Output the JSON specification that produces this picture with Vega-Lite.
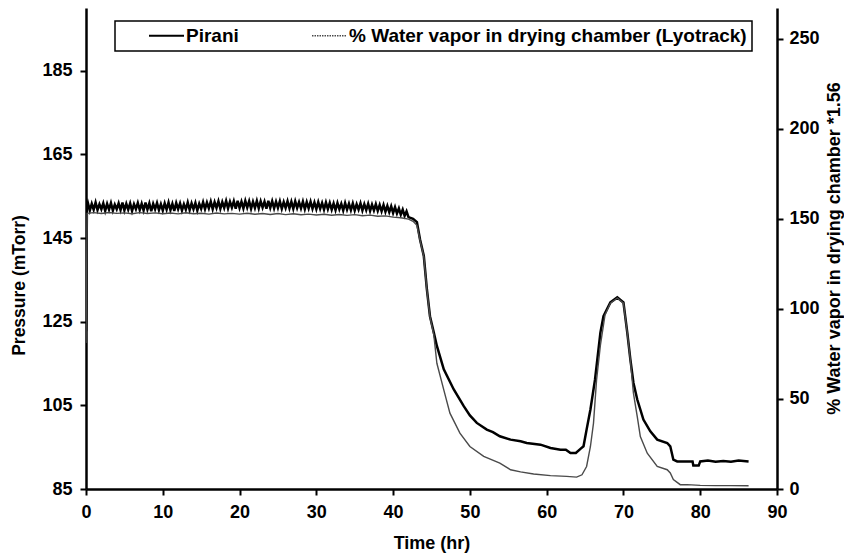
{
  "$schema": "https://vega.github.io/schema/vega-lite/v6.json",
  "width": 691,
  "height": 481,
  "autosize": {"type": "none"},
  "padding": {"left": 86, "top": 8, "right": 67, "bottom": 71},
  "background": "white",
  "config": {
    "view": {"stroke": null},
    "font": "Liberation Sans",
    "axis": {
      "grid": false,
      "domainColor": "black",
      "domainWidth": 2.5,
      "tickColor": "black",
      "tickWidth": 2,
      "tickSize": 6,
      "labelFont": "Liberation Sans",
      "labelFontWeight": "bold",
      "labelFontSize": 18,
      "labelColor": "black",
      "titleFont": "Liberation Sans",
      "titleFontWeight": "bold",
      "titleFontSize": 17.5,
      "titleColor": "black"
    },
    "legend": {
      "orient": "none",
      "legendX": 29,
      "legendY": 13,
      "direction": "horizontal",
      "strokeColor": "black",
      "strokeWidth": 1.5,
      "padding": 5,
      "symbolType": "stroke",
      "symbolSize": 1225,
      "symbolStrokeWidth": 2,
      "labelFont": "Liberation Sans",
      "labelFontWeight": "bold",
      "labelFontSize": 19,
      "labelColor": "black",
      "labelLimit": 0,
      "columnPadding": 44,
      "labelOffset": 10,
      "symbolOffset": 37
    }
  },
  "datasets": {
    "pirani": [
      {"hr": 0, "p": 122.7}, {"hr": 0.12, "p": 152.5},
      {"hr": 0.25, "p": 153.4}, {"hr": 0.5, "p": 151.6}, {"hr": 0.75, "p": 153.2}, {"hr": 1, "p": 151.8}, {"hr": 1.25, "p": 153.5}, {"hr": 1.5, "p": 151.7}, {"hr": 1.75, "p": 153.1}, {"hr": 2, "p": 151.9},
      {"hr": 2.25, "p": 153.3}, {"hr": 2.5, "p": 151.5}, {"hr": 2.75, "p": 153.2}, {"hr": 3, "p": 151.8}, {"hr": 3.25, "p": 153.4}, {"hr": 3.5, "p": 151.6}, {"hr": 3.75, "p": 153.0}, {"hr": 4, "p": 151.9},
      {"hr": 4.25, "p": 153.3}, {"hr": 4.5, "p": 151.7}, {"hr": 4.75, "p": 153.5}, {"hr": 5, "p": 151.6}, {"hr": 5.25, "p": 153.2}, {"hr": 5.5, "p": 151.8}, {"hr": 5.75, "p": 153.3}, {"hr": 6, "p": 151.5},
      {"hr": 6.25, "p": 153.1}, {"hr": 6.5, "p": 151.9}, {"hr": 6.75, "p": 153.4}, {"hr": 7, "p": 151.7}, {"hr": 7.25, "p": 153.2}, {"hr": 7.5, "p": 151.6}, {"hr": 7.75, "p": 153.5}, {"hr": 8, "p": 151.8},
      {"hr": 8.25, "p": 153.3}, {"hr": 8.5, "p": 151.4}, {"hr": 8.75, "p": 153.2}, {"hr": 9, "p": 151.9}, {"hr": 9.25, "p": 153.4}, {"hr": 9.5, "p": 151.7}, {"hr": 9.75, "p": 153.1}, {"hr": 10, "p": 151.6},
      {"hr": 10.25, "p": 153.3}, {"hr": 10.5, "p": 151.8}, {"hr": 10.75, "p": 153.5}, {"hr": 11, "p": 151.7}, {"hr": 11.25, "p": 153.2}, {"hr": 11.5, "p": 151.5}, {"hr": 11.75, "p": 153.4}, {"hr": 12, "p": 151.9},
      {"hr": 12.25, "p": 153.3}, {"hr": 12.5, "p": 151.6}, {"hr": 12.75, "p": 153.1}, {"hr": 13, "p": 151.8}, {"hr": 13.25, "p": 153.5}, {"hr": 13.5, "p": 151.7}, {"hr": 13.75, "p": 153.3}, {"hr": 14, "p": 151.9},
      {"hr": 14.25, "p": 153.4}, {"hr": 14.5, "p": 151.6}, {"hr": 14.75, "p": 153.2}, {"hr": 15, "p": 152.0}, {"hr": 15.25, "p": 153.6}, {"hr": 15.5, "p": 151.9}, {"hr": 15.75, "p": 153.5}, {"hr": 16, "p": 152.1},
      {"hr": 16.25, "p": 153.7}, {"hr": 16.5, "p": 151.9}, {"hr": 16.75, "p": 153.6}, {"hr": 17, "p": 152.2}, {"hr": 17.25, "p": 153.8}, {"hr": 17.5, "p": 152.0}, {"hr": 17.75, "p": 153.6}, {"hr": 18, "p": 152.2},
      {"hr": 18.25, "p": 153.9}, {"hr": 18.5, "p": 152.1}, {"hr": 18.75, "p": 153.7}, {"hr": 19, "p": 152.3}, {"hr": 19.25, "p": 153.8}, {"hr": 19.5, "p": 152.0}, {"hr": 19.75, "p": 153.9}, {"hr": 20, "p": 152.2},
      {"hr": 20.25, "p": 153.7}, {"hr": 20.5, "p": 152.1}, {"hr": 20.75, "p": 153.9}, {"hr": 21, "p": 152.3}, {"hr": 21.25, "p": 153.8}, {"hr": 21.5, "p": 152.0}, {"hr": 21.75, "p": 153.7}, {"hr": 22, "p": 152.2},
      {"hr": 22.25, "p": 153.9}, {"hr": 22.5, "p": 152.1}, {"hr": 22.75, "p": 153.8}, {"hr": 23, "p": 152.3}, {"hr": 23.25, "p": 153.7}, {"hr": 23.5, "p": 152.0}, {"hr": 23.75, "p": 153.9}, {"hr": 24, "p": 152.2},
      {"hr": 24.25, "p": 153.8}, {"hr": 24.5, "p": 152.1}, {"hr": 24.75, "p": 153.7}, {"hr": 25, "p": 152.2}, {"hr": 25.25, "p": 153.8}, {"hr": 25.5, "p": 152.0}, {"hr": 25.75, "p": 153.6}, {"hr": 26, "p": 152.2},
      {"hr": 26.25, "p": 153.8}, {"hr": 26.5, "p": 152.1}, {"hr": 26.75, "p": 153.7}, {"hr": 27, "p": 152.0}, {"hr": 27.25, "p": 153.8}, {"hr": 27.5, "p": 152.2}, {"hr": 27.75, "p": 153.6}, {"hr": 28, "p": 152.1},
      {"hr": 28.25, "p": 153.7}, {"hr": 28.5, "p": 151.9}, {"hr": 28.75, "p": 153.6}, {"hr": 29, "p": 152.1}, {"hr": 29.25, "p": 153.7}, {"hr": 29.5, "p": 152.0}, {"hr": 29.75, "p": 153.5}, {"hr": 30, "p": 151.9},
      {"hr": 30.25, "p": 153.6}, {"hr": 30.5, "p": 152.0}, {"hr": 30.75, "p": 153.4}, {"hr": 31, "p": 151.8}, {"hr": 31.25, "p": 153.5}, {"hr": 31.5, "p": 151.9}, {"hr": 31.75, "p": 153.4}, {"hr": 32, "p": 151.8},
      {"hr": 32.25, "p": 153.3}, {"hr": 32.5, "p": 151.7}, {"hr": 32.75, "p": 153.4}, {"hr": 33, "p": 151.9}, {"hr": 33.25, "p": 153.2}, {"hr": 33.5, "p": 151.6}, {"hr": 33.75, "p": 153.4}, {"hr": 34, "p": 151.8},
      {"hr": 34.25, "p": 153.2}, {"hr": 34.5, "p": 151.7}, {"hr": 34.75, "p": 153.3}, {"hr": 35, "p": 151.6}, {"hr": 35.25, "p": 153.1}, {"hr": 35.5, "p": 151.8}, {"hr": 35.75, "p": 153.3}, {"hr": 36, "p": 151.6},
      {"hr": 36.25, "p": 153.1}, {"hr": 36.5, "p": 151.7}, {"hr": 36.75, "p": 153.2}, {"hr": 37, "p": 151.5}, {"hr": 37.25, "p": 153.0}, {"hr": 37.5, "p": 151.6}, {"hr": 37.75, "p": 153.1}, {"hr": 38, "p": 151.5},
      {"hr": 38.25, "p": 152.9}, {"hr": 38.5, "p": 151.4}, {"hr": 38.75, "p": 152.9}, {"hr": 39, "p": 151.3}, {"hr": 39.25, "p": 152.7}, {"hr": 39.5, "p": 151.2}, {"hr": 39.75, "p": 152.6}, {"hr": 40, "p": 151.0},
      {"hr": 40.25, "p": 152.4}, {"hr": 40.5, "p": 150.9}, {"hr": 40.75, "p": 152.1}, {"hr": 41, "p": 150.6}, {"hr": 41.25, "p": 151.8}, {"hr": 41.5, "p": 150.3}, {"hr": 41.75, "p": 151.4}, {"hr": 42, "p": 150.0},
      {"hr": 42.6, "p": 149.6}, {"hr": 43.1, "p": 148.8},
      {"hr": 43.5, "p": 144.7}, {"hr": 44.0, "p": 140.7}, {"hr": 44.4, "p": 132.7}, {"hr": 44.8, "p": 126.3}, {"hr": 45.3, "p": 122.4}, {"hr": 45.7, "p": 119.2}, {"hr": 46.6, "p": 113.6}, {"hr": 47.9, "p": 108.8}, {"hr": 49.2, "p": 104.8}, {"hr": 50.0, "p": 102.6},
      {"hr": 50.9, "p": 100.8}, {"hr": 52.2, "p": 99.2}, {"hr": 53.0, "p": 98.6}, {"hr": 53.9, "p": 97.6}, {"hr": 55.3, "p": 96.8}, {"hr": 56.6, "p": 96.4}, {"hr": 57.4, "p": 96.0}, {"hr": 59.2, "p": 95.6}, {"hr": 60.5, "p": 94.8}, {"hr": 61.8, "p": 94.4},
      {"hr": 62.5, "p": 94.4}, {"hr": 63.1, "p": 93.6}, {"hr": 63.8, "p": 93.6}, {"hr": 64.4, "p": 94.6}, {"hr": 64.8, "p": 95.2}, {"hr": 65.2, "p": 99.2}, {"hr": 65.7, "p": 104.0}, {"hr": 66.3, "p": 111.2}, {"hr": 67.0, "p": 122.4}, {"hr": 67.4, "p": 126.3},
      {"hr": 68.3, "p": 129.6}, {"hr": 69.2, "p": 130.8}, {"hr": 70.0, "p": 129.6}, {"hr": 70.5, "p": 122.4}, {"hr": 70.9, "p": 116.0}, {"hr": 71.3, "p": 110.4}, {"hr": 71.8, "p": 106.4}, {"hr": 72.6, "p": 101.6}, {"hr": 73.5, "p": 98.8}, {"hr": 74.4, "p": 96.8},
      {"hr": 75.7, "p": 96.0}, {"hr": 76.1, "p": 95.2}, {"hr": 76.5, "p": 92.0}, {"hr": 77.0, "p": 91.6}, {"hr": 79.0, "p": 91.6}, {"hr": 79.1, "p": 90.6}, {"hr": 79.8, "p": 90.6}, {"hr": 80.0, "p": 91.6}, {"hr": 81, "p": 91.8}, {"hr": 82, "p": 91.5},
      {"hr": 83, "p": 91.7}, {"hr": 84, "p": 91.5}, {"hr": 85, "p": 91.8}, {"hr": 86.3, "p": 91.6}
    ],
    "lyotrack": [
      {"hr": 0, "w": 81}, {"hr": 0.15, "w": 153.0}, {"hr": 1, "w": 153.4}, {"hr": 2, "w": 152.9}, {"hr": 3, "w": 153.5}, {"hr": 4, "w": 153.0}, {"hr": 5, "w": 153.3}, {"hr": 6, "w": 152.8}, {"hr": 7, "w": 153.4}, {"hr": 8, "w": 152.9},
      {"hr": 9, "w": 153.3}, {"hr": 10, "w": 152.8}, {"hr": 11, "w": 153.2}, {"hr": 12, "w": 152.7}, {"hr": 13, "w": 153.3}, {"hr": 14, "w": 152.8}, {"hr": 15, "w": 153.1}, {"hr": 16, "w": 152.6}, {"hr": 17, "w": 153.2}, {"hr": 18, "w": 152.7},
      {"hr": 19, "w": 153.0}, {"hr": 20, "w": 152.6}, {"hr": 21, "w": 153.1}, {"hr": 22, "w": 152.5}, {"hr": 23, "w": 152.9}, {"hr": 24, "w": 152.4}, {"hr": 25, "w": 152.9}, {"hr": 26, "w": 152.3}, {"hr": 27, "w": 152.8}, {"hr": 28, "w": 152.2},
      {"hr": 29, "w": 152.6}, {"hr": 30, "w": 152.1}, {"hr": 31, "w": 152.5}, {"hr": 32, "w": 152.0}, {"hr": 33, "w": 152.4}, {"hr": 34, "w": 151.9}, {"hr": 35, "w": 152.3}, {"hr": 36, "w": 151.7}, {"hr": 37, "w": 152.0}, {"hr": 38, "w": 151.4},
      {"hr": 39, "w": 151.6}, {"hr": 40, "w": 150.9}, {"hr": 41, "w": 150.6}, {"hr": 42, "w": 149.8}, {"hr": 42.6, "w": 148.6}, {"hr": 43.1, "w": 146.4}, {"hr": 43.5, "w": 138.1}, {"hr": 44.0, "w": 128.9}, {"hr": 44.4, "w": 110.4}, {"hr": 44.8, "w": 95.6},
      {"hr": 45.3, "w": 85.5}, {"hr": 45.7, "w": 69.8}, {"hr": 46.6, "w": 55.0}, {"hr": 47.4, "w": 42.1}, {"hr": 48.7, "w": 31.0}, {"hr": 50.0, "w": 23.6}, {"hr": 51.8, "w": 18.1}, {"hr": 53.9, "w": 14.4}, {"hr": 55.3, "w": 10.7}, {"hr": 56.6, "w": 9.5},
      {"hr": 58.3, "w": 8.3}, {"hr": 60.5, "w": 7.4}, {"hr": 62.6, "w": 7.0}, {"hr": 63.9, "w": 6.6}, {"hr": 64.6, "w": 7.9}, {"hr": 65.2, "w": 12.5}, {"hr": 65.7, "w": 23.6}, {"hr": 66.1, "w": 36.6}, {"hr": 66.5, "w": 60.6}, {"hr": 67.0, "w": 79.9},
      {"hr": 67.6, "w": 96.6}, {"hr": 68.3, "w": 103.2}, {"hr": 69.2, "w": 106.0}, {"hr": 70.0, "w": 103.2}, {"hr": 70.5, "w": 86.6}, {"hr": 70.9, "w": 71.6}, {"hr": 71.3, "w": 53.2}, {"hr": 71.8, "w": 40.2}, {"hr": 72.2, "w": 29.1}, {"hr": 73.1, "w": 19.9},
      {"hr": 74.4, "w": 12.5}, {"hr": 75.7, "w": 10.7}, {"hr": 76.1, "w": 8.9}, {"hr": 76.5, "w": 5.2}, {"hr": 77.4, "w": 2.4}, {"hr": 78.3, "w": 2.4}, {"hr": 80, "w": 2.0}, {"hr": 82, "w": 1.9}, {"hr": 84, "w": 1.9}, {"hr": 86.3, "w": 1.8}
    ]
  },
  "encoding": {
    "x": {
      "field": "hr",
      "type": "quantitative",
      "scale": {"domain": [0, 90], "nice": false, "zero": false},
      "axis": {"title": "Time (hr)", "values": [0, 10, 20, 30, 40, 50, 60, 70, 80, 90], "labelPadding": 8, "titlePadding": 13, "titleFontSize": 18, "labelFlush": false}
    }
  },
  "layer": [
    {
      "data": {"name": "pirani"},
      "mark": {"type": "line", "strokeWidth": 2.5, "clip": true},
      "encoding": {
        "y": {
          "field": "p",
          "type": "quantitative",
          "scale": {"domain": [85, 200], "nice": false, "zero": false},
          "axis": {"title": "Pressure (mTorr)", "orient": "left", "values": [85, 105, 125, 145, 165, 185], "labelPadding": 8, "titleBaseline": "middle", "titleX": -67, "titleY": 277}
        },
        "color": {
          "datum": "Pirani",
          "type": "nominal",
          "scale": {"domain": ["Pirani", "% Water vapor in drying chamber (Lyotrack)"], "range": ["#000000", "#4a4a4a"]},
          "legend": {
            "title": null,
            "encode": {
              "symbols": {"update": {
                "strokeWidth": {"signal": "datum.value === 'Pirani' ? 2 : 1.6"},
                "strokeDash": {"signal": "datum.value === 'Pirani' ? [1,0] : [1.5,1]"}
              }}
            }
          }
        }
      }
    },
    {
      "data": {"name": "lyotrack"},
      "mark": {"type": "line", "strokeWidth": 1.4, "clip": true},
      "encoding": {
        "y": {
          "field": "w",
          "type": "quantitative",
          "scale": {"domain": [0, 267], "nice": false, "zero": false},
          "axis": {"title": "% Water vapor in drying chamber *1.56", "orient": "right", "values": [0, 50, 100, 150, 200, 250], "labelPadding": 6, "titleAngle": 270, "titleBaseline": "middle", "titleFontSize": 18, "titleX": 57, "titleY": 240}
        },
        "color": {"datum": "% Water vapor in drying chamber (Lyotrack)", "type": "nominal"}
      }
    }
  ],
  "resolve": {"scale": {"y": "independent"}}
}
